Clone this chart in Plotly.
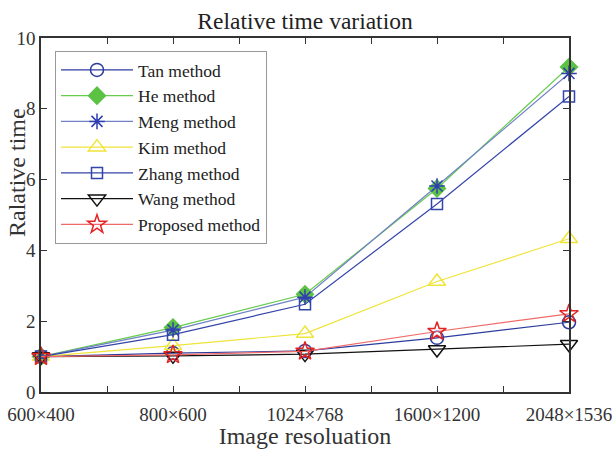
import plotly.graph_objects as go

categories = ["600×400", "800×600", "1024×768", "1600×1200", "2048×1536"]
tan = [1.0, 1.10, 1.16, 1.53, 1.97]
he = [1.0, 1.82, 2.76, 5.75, 9.18]
meng = [1.0, 1.75, 2.68, 5.82, 9.00]
kim = [1.0, 1.31, 1.65, 3.12, 4.33]
zhang = [1.0, 1.62, 2.48, 5.31, 8.35]
wang = [1.0, 1.02, 1.07, 1.20, 1.35]
proposed = [1.0, 1.05, 1.15, 1.71, 2.21]

xpos = list(range(1, len(categories) + 1))

series = [
    ("Tan method", tan, "#2c3c9e", "#2c3c9e", "circle-open", 13, None),
    ("He method", he, "#66cc4c", "#5cc244", "diamond", 13, "#5cc244"),
    ("Meng method", meng, "#6f80c6", "#2f3fb0", "asterisk-open", 13, None),
    ("Kim method", kim, "#efe43a", "#efe43a", "triangle-up-open", 15, None),
    ("Zhang method", zhang, "#3344aa", "#3344aa", "square-open", 11, None),
    ("Wang method", wang, "#111111", "#111111", "triangle-down-open", 15, None),
    ("Proposed method", proposed, "#f06a6a", "#e42424", "star-open", 14, None),
]

fig = go.Figure()
for name, vals, lc, mc, sym, sz, fill in series:
    marker = dict(symbol=sym, size=sz, color=fill if fill else mc,
                  line=dict(color=mc, width=1.5))
    fig.add_trace(go.Scatter(
        x=xpos, y=vals, name=name, mode="lines+markers",
        line=dict(color=lc, width=1.2), marker=marker, cliponaxis=False,
    ))

font_family = "Liberation Serif"
tickvals = [1, 1.5, 2, 2.5, 3, 3.5, 4, 4.5, 5]
ticktext = [categories[int(v) - 1] if float(v).is_integer() else "" for v in tickvals]

fig.update_layout(
    width=615, height=449,
    margin=dict(l=41, r=46, t=38, b=57, autoexpand=False),
    paper_bgcolor="white", plot_bgcolor="white",
    font=dict(family=font_family, color="#333333", size=19),
    title=dict(text="Relative time variation", x=0.5, xref="paper", xanchor="center",
               y=1 - 21 / 449, yanchor="middle",
               font=dict(family=font_family, size=23.5, color="#222222")),
    showlegend=True,
    legend=dict(x=(55 - 41) / 528, y=(392 - 51) / 354, xanchor="left", yanchor="top",
                bgcolor="white", bordercolor="#999999", borderwidth=1,
                font=dict(family=font_family, size=17.5, color="#222222"),
                itemwidth=72, tracegroupgap=0),
    xaxis=dict(range=[1, 5], tickvals=tickvals, ticktext=ticktext, automargin=False,
               ticks="inside", ticklen=6, tickcolor="#333333", ticklabelstandoff=4,
               showline=True, linecolor="#333333", linewidth=1.5, mirror="ticks",
               showgrid=False, zeroline=False,
               tickfont=dict(family=font_family, size=19, color="#333333"),
               title=dict(text="Image resoluation", standoff=2,
                          font=dict(family=font_family, size=24, color="#333333"))),
    yaxis=dict(range=[0, 10], tickvals=[0, 2, 4, 6, 8, 10], automargin=False,
               ticks="inside", ticklen=6, tickcolor="#333333",
               showline=True, linecolor="#333333", linewidth=1.5, mirror="ticks",
               showgrid=False, zeroline=False,
               tickfont=dict(family=font_family, size=19, color="#333333")),
    annotations=[dict(text="Ralative time", xref="paper", yref="paper",
                      x=(17 - 41) / 528, y=(392 - 173) / 354, xanchor="center", yanchor="middle",
                      textangle=-90, showarrow=False,
                      font=dict(family=font_family, size=24, color="#333333"))],
)

fig.write_html("out.html", config={"displayModeBar": False},
               post_script="document.body.style.margin='0';document.body.style.padding='0';")
